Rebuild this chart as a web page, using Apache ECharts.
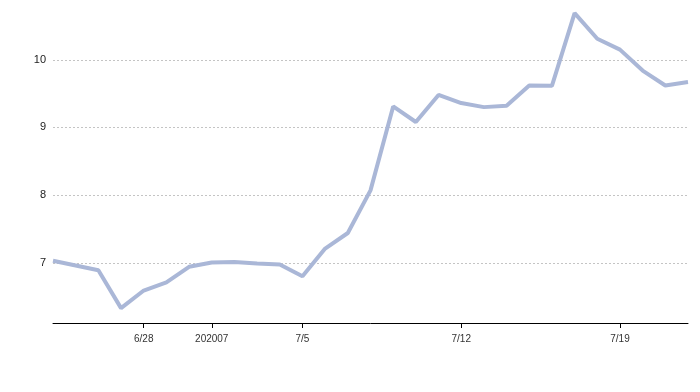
<!DOCTYPE html>
<html>
<head>
<meta charset="utf-8">
<script src="https://cdn.jsdelivr.net/npm/echarts@6/dist/echarts.min.js"></script>
<style>html,body{margin:0;padding:0;background:#fff;}#c{width:700px;height:392px;}</style>
</head>
<body>
<div id="c"></div>
<script>
const dates = [
  '2020-06-24','2020-06-25','2020-06-26','2020-06-27','2020-06-28','2020-06-29','2020-06-30',
  '2020-07-01','2020-07-02','2020-07-03','2020-07-04','2020-07-05','2020-07-06','2020-07-07',
  '2020-07-08','2020-07-09','2020-07-10','2020-07-11','2020-07-12','2020-07-13','2020-07-14',
  '2020-07-15','2020-07-16','2020-07-17','2020-07-18','2020-07-19','2020-07-20','2020-07-21',
  '2020-07-22'
];
const values = [
  7.03, 6.96, 6.89, 6.33, 6.59, 6.71, 6.94,
  7.005, 7.01, 6.99, 6.975, 6.80, 7.21, 7.44,
  8.07, 9.31, 9.08, 9.48, 9.36, 9.30, 9.32,
  9.62, 9.615, 10.69, 10.31, 10.15, 9.84, 9.62,
  9.67
];
const tickLabels = {
  '2020-06-28': '6/28',
  '2020-07-01': '202007',
  '2020-07-05': '7/5',
  '2020-07-12': '7/12',
  '2020-07-19': '7/19'
};

const chart = echarts.init(document.getElementById('c'), null, {renderer: 'canvas'});
const showTick = (idx, val) => tickLabels.hasOwnProperty(dates[idx]);
chart.setOption({
  animation: false,
  backgroundColor: '#fff',
  grid: {left: 53, right: 12, top: 9, bottom: 69, containLabel: false},
  xAxis: {
    type: 'category',
    data: dates,
    boundaryGap: false,
    axisLine: {lineStyle: {color: '#000', width: 1}},
    axisTick: {show: true, length: 5, lineStyle: {color: '#000'}, interval: showTick, alignWithLabel: true},
    axisLabel: {
      interval: showTick,
      formatter: v => tickLabels[v] || '',
      color: '#333',
      fontSize: 10,
      fontFamily: 'Liberation Sans, Arial, sans-serif',
      margin: 11
    },
    splitLine: {show: false}
  },
  yAxis: {
    type: 'value',
    min: 6.11,
    max: 10.75,
    axisLine: {show: false},
    axisTick: {show: false},
    axisLabel: {
      showMinLabel: false,
      showMaxLabel: false,
      color: '#222',
      fontSize: 11,
      fontFamily: 'Liberation Sans, Arial, sans-serif',
      margin: 7,
      formatter: v => (Math.abs(v - Math.round(v)) < 1e-9 ? String(Math.round(v)) : '')
    },
    splitLine: {
      show: true,
      showMinLine: false,
      showMaxLine: false,
      lineStyle: {type: [2, 2], color: '#c4c4c4', width: 1}
    }
  },
  series: [{
    type: 'line',
    data: values,
    showSymbol: false,
    symbol: 'none',
    lineStyle: {color: '#aab7d7', width: 4},
    itemStyle: {color: '#aab7d7'}
  }]
});
</script>
</body>
</html>
